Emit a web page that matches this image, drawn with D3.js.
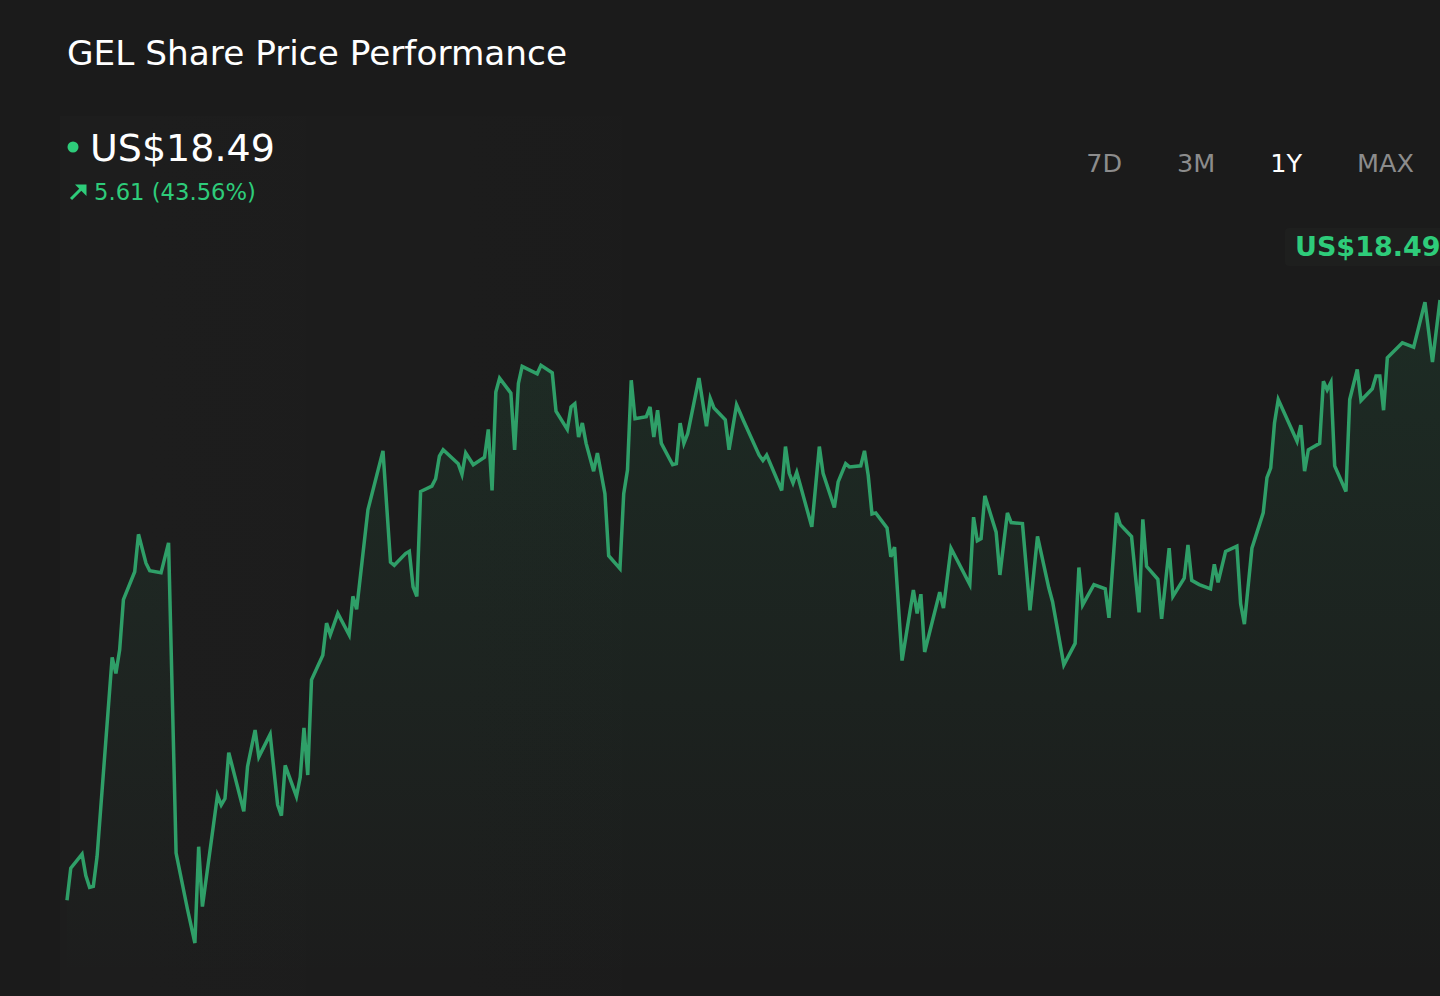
<!DOCTYPE html>
<html>
<head>
<meta charset="utf-8">
<script src="https://cdn.jsdelivr.net/npm/d3@7"></script>
<style>
  html, body { margin: 0; padding: 0; background: #1b1b1b; }
  svg { display: block; font-family: "DejaVu Sans", sans-serif; }
</style>
</head>
<body>
<div id="root"></div>
<script>
// 1Y daily closes, x is the day offset from the first point of the window
const days = [
  0, 1, 4, 5, 6, 7, 8, 12, 13, 14,
  15, 18, 19, 21, 22, 25, 27, 29, 32, 34,
  35, 36, 40, 41, 42, 43, 47, 48, 50, 51,
  54, 56, 57, 58, 61, 62, 63, 64, 65, 68,
  69, 70, 72, 75, 76, 77, 80, 84, 86, 87,
  90, 91, 92, 93, 94, 97, 98, 99, 100, 104,
  105, 106, 108, 111, 112, 113, 114, 115, 118, 119,
  120, 121, 125, 126, 129, 130, 133, 134, 135, 136,
  137, 138, 140, 141, 143, 144, 147, 148, 149, 150,
  151, 154, 155, 156, 157, 158, 161, 162, 163, 164,
  165, 168, 170, 171, 172, 175, 176, 178, 180, 184,
  185, 186, 190, 191, 192, 193, 194, 198, 200, 201,
  204, 205, 207, 208, 211, 212, 213, 214, 215, 218,
  219, 220, 222, 225, 226, 227, 228, 232, 233, 235,
  240, 241, 242, 243, 244, 247, 248, 250, 251, 254,
  256, 258, 261, 262, 265, 268, 269, 270, 273, 276,
  277, 279, 280, 283, 285, 286, 287, 290, 291, 293,
  294, 297, 298, 299, 301, 304, 305, 306, 308, 311,
  312, 313, 315, 318, 319, 320, 321, 322, 327, 328,
  329, 330, 333, 334, 335, 336, 337, 340, 341, 343,
  344, 347, 348, 349, 350, 351, 355, 358, 361, 363,
  365
];

const prices = [
  12.88, 13.18, 13.31, 13.11, 13.00, 13.01, 13.29, 15.15, 15.00, 15.22,
  15.69, 15.95, 16.30, 16.03, 15.96, 15.94, 16.22, 13.32, 12.80, 12.48,
  13.38, 12.82, 13.86, 13.77, 13.83, 14.26, 13.71, 14.13, 14.47, 14.22,
  14.43, 13.77, 13.67, 14.14, 13.85, 14.03, 14.49, 14.05, 14.94, 15.17,
  15.47, 15.36, 15.56, 15.36, 15.72, 15.60, 16.53, 17.08, 16.04, 16.01,
  16.12, 16.14, 15.81, 15.72, 16.70, 16.75, 16.82, 17.03, 17.09, 16.96,
  16.86, 17.06, 16.95, 17.02, 17.28, 16.71, 17.63, 17.76, 17.62, 17.09,
  17.71, 17.87, 17.80, 17.88, 17.81, 17.45, 17.28, 17.49, 17.52, 17.21,
  17.34, 17.15, 16.89, 17.06, 16.68, 16.10, 15.98, 16.68, 16.90, 17.74,
  17.38, 17.40, 17.49, 17.21, 17.46, 17.15, 16.95, 16.96, 17.34, 17.15,
  17.24, 17.76, 17.31, 17.57, 17.48, 17.37, 17.09, 17.51, 17.35, 17.04,
  16.99, 17.04, 16.71, 17.12, 16.87, 16.78, 16.88, 16.37, 17.12, 16.87,
  16.55, 16.79, 16.96, 16.93, 16.94, 17.08, 16.85, 16.49, 16.50, 16.36,
  16.09, 16.18, 15.12, 15.78, 15.56, 15.74, 15.20, 15.76, 15.61, 16.17,
  15.83, 16.46, 16.24, 16.26, 16.66, 16.32, 15.92, 16.50, 16.41, 16.40,
  15.59, 16.28, 15.80, 15.67, 15.08, 15.28, 15.99, 15.64, 15.83, 15.79,
  15.52, 16.50, 16.39, 16.28, 15.57, 16.44, 16.00, 15.88, 15.51, 16.17,
  15.72, 15.89, 16.20, 15.87, 15.83, 15.79, 16.02, 15.85, 16.14, 16.19,
  15.65, 15.46, 16.17, 16.50, 16.83, 16.92, 17.34, 17.56, 17.17, 17.32,
  16.89, 17.09, 17.15, 17.73, 17.65, 17.72, 16.94, 16.70, 17.56, 17.84,
  17.55, 17.66, 17.78, 17.78, 17.46, 17.95, 18.09, 18.05, 18.47, 17.91,
  18.49
];

const ranges = ['7D', '3M', '1Y', 'MAX'];
const activeRange = '1Y';
const title = 'GEL Share Price Performance';
const currency = 'US$';

const width = 1440;
const height = 996;
const green = '#2ecc7a';
const lineGreen = '#2f9f68';

const data = days.map((d, i) => ({ day: d, price: prices[i] }));
const last = data[data.length - 1];
const first = data[0];
const change = last.price - first.price;
const changePct = change / first.price * 100;

const svg = d3.select('#root')
  .append('svg')
  .attr('width', width)
  .attr('height', height)
  .attr('viewBox', `0 0 ${width} ${height}`);

svg.append('rect')
  .attr('width', width)
  .attr('height', height)
  .attr('fill', '#1b1b1b');

const defs = svg.append('defs');
const grad = defs.append('linearGradient')
  .attr('id', 'areaFill')
  .attr('gradientUnits', 'userSpaceOnUse')
  .attr('x1', 0).attr('y1', 300)
  .attr('x2', 0).attr('y2', 980);
grad.append('stop').attr('offset', 0).attr('stop-color', '#2ea86b').attr('stop-opacity', 0.12);
grad.append('stop').attr('offset', 1).attr('stop-color', '#2ea86b').attr('stop-opacity', 0);

// faint panel behind the header, fading out to the right
const panel = defs.append('linearGradient')
  .attr('id', 'panelFill')
  .attr('x1', 0).attr('y1', 0).attr('x2', 1).attr('y2', 0);
panel.append('stop').attr('offset', 0).attr('stop-color', '#ffffff').attr('stop-opacity', 0.01);
panel.append('stop').attr('offset', 1).attr('stop-color', '#ffffff').attr('stop-opacity', 0);
svg.append('rect')
  .attr('x', 60).attr('y', 116)
  .attr('width', 720).attr('height', height - 116)
  .attr('fill', 'url(#panelFill)');

// scales
const x = d3.scaleLinear()
  .domain(d3.extent(days))
  .range([67, 1440]);
const y = d3.scaleLinear()
  .domain(d3.extent(prices))
  .range([943, 300]);

const area = d3.area()
  .x(d => x(d.day))
  .y0(990)
  .y1(d => y(d.price));
const line = d3.line()
  .x(d => x(d.day))
  .y(d => y(d.price));

svg.append('path')
  .datum(data)
  .attr('d', area)
  .attr('fill', 'url(#areaFill)');

svg.append('path')
  .datum(data)
  .attr('d', line)
  .attr('fill', 'none')
  .attr('stroke', lineGreen)
  .attr('stroke-width', 3.5)
  .attr('stroke-linejoin', 'miter');

// title
svg.append('text')
  .attr('x', 67)
  .attr('y', 65)
  .attr('font-size', 34.3)
  .attr('fill', '#ffffff')
  .text(title);

// current price block
svg.append('circle')
  .attr('cx', 73).attr('cy', 147).attr('r', 5.5)
  .attr('fill', green);
svg.append('text')
  .attr('x', 90)
  .attr('y', 161)
  .attr('font-size', 38)
  .attr('fill', '#ffffff')
  .text(currency + last.price.toFixed(2));

svg.append('path')
  .attr('d', 'M71,199 L82,188')
  .attr('fill', 'none')
  .attr('stroke', green)
  .attr('stroke-width', 3);
svg.append('path')
  .attr('d', 'M75,184.5 L86.5,184.5 L86.5,196 Z')
  .attr('fill', green);
svg.append('text')
  .attr('x', 94)
  .attr('y', 200)
  .attr('font-size', 22.7)
  .attr('fill', green)
  .text(`${change.toFixed(2)} (${changePct.toFixed(2)}%)`);

// range buttons, laid out right to left with a fixed gap
const rangeGroup = svg.append('g');
const rangeText = rangeGroup.selectAll('text')
  .data(ranges)
  .join('text')
  .attr('y', 172)
  .attr('font-size', 25.5)
  .attr('fill', d => d === activeRange ? '#ffffff' : '#8c8c8c')
  .text(d => d);
let cursor = 1414;
const gap = 55;
rangeText.nodes().reverse().forEach(node => {
  const w = node.getComputedTextLength();
  cursor -= w;
  d3.select(node).attr('x', cursor);
  cursor -= gap;
});

// last price tag
svg.append('rect')
  .attr('x', 1285).attr('y', 228)
  .attr('width', 170).attr('height', 38)
  .attr('rx', 4)
  .attr('fill', '#1e1f1e');
svg.append('text')
  .attr('x', 1295)
  .attr('y', 256)
  .attr('font-size', 27)
  .attr('font-weight', 'bold')
  .attr('fill', green)
  .text(currency + last.price.toFixed(2));
</script>
</body>
</html>
